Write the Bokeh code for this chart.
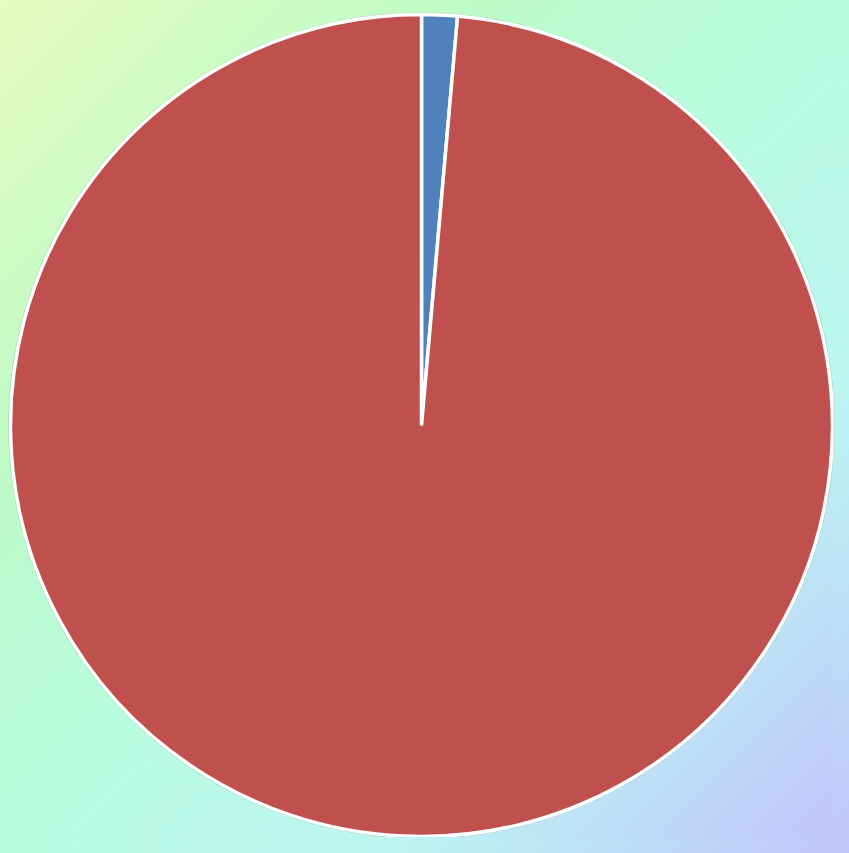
import numpy as np
from bokeh.plotting import figure
from bokeh.models import Range1d, ColumnDataSource, GlobalInlineStyleSheet
from bokeh.embed import file_html
from bokeh.resources import INLINE

# ---- data ----
categories = ["Series A", "Series B"]
values = [1.4, 98.6]
colors = ["#4f81bd", "#c0504d"]

# ---- geometry ----
W, H = 833, 837
R_PX = 411.0
CX_PX, CY_PX = 421.0, 425.0

total = float(sum(values))
fr = np.array(values) / total
ends = np.cumsum(fr) * 2 * np.pi
starts = np.concatenate([[0.0], ends[:-1]])
# clockwise from 12 o'clock
start_angle = np.pi / 2 - starts
end_angle = np.pi / 2 - ends

src = ColumnDataSource(dict(cat=categories, val=values, color=colors,
                            start=list(start_angle), end=list(end_angle)))

p = figure(width=W, height=H,
           x_range=Range1d(-CX_PX / R_PX, (W - CX_PX) / R_PX),
           y_range=Range1d(-(H - CY_PX) / R_PX, CY_PX / R_PX),
           output_backend="svg", toolbar_location=None, min_border=0)
p.axis.visible = False
p.grid.visible = False
p.outline_line_color = None
p.background_fill_alpha = 0
p.border_fill_alpha = 0

grad = ("linear-gradient(135deg, #e6fcc0 0%, #bcfac8 30%, #b8fce0 50%, "
        "#bcf6f0 72%, #c0c6fc 100%)")
p.styles = {"background": grad}
p.stylesheets = [GlobalInlineStyleSheet(css="html, body { background: " + grad + "; }")]

# faint outer rim
p.circle(x=[0], y=[0], radius=1.004, fill_color=None,
         line_color="#8fa6a6", line_alpha=0.6, line_width=1.2)

p.wedge(x=0, y=0, radius=1.0, start_angle="end", end_angle="start",
        direction="anticlock", fill_color="color", line_color="white",
        line_width=3.5, source=src)

open("out.html", "w").write(file_html(p, INLINE))
